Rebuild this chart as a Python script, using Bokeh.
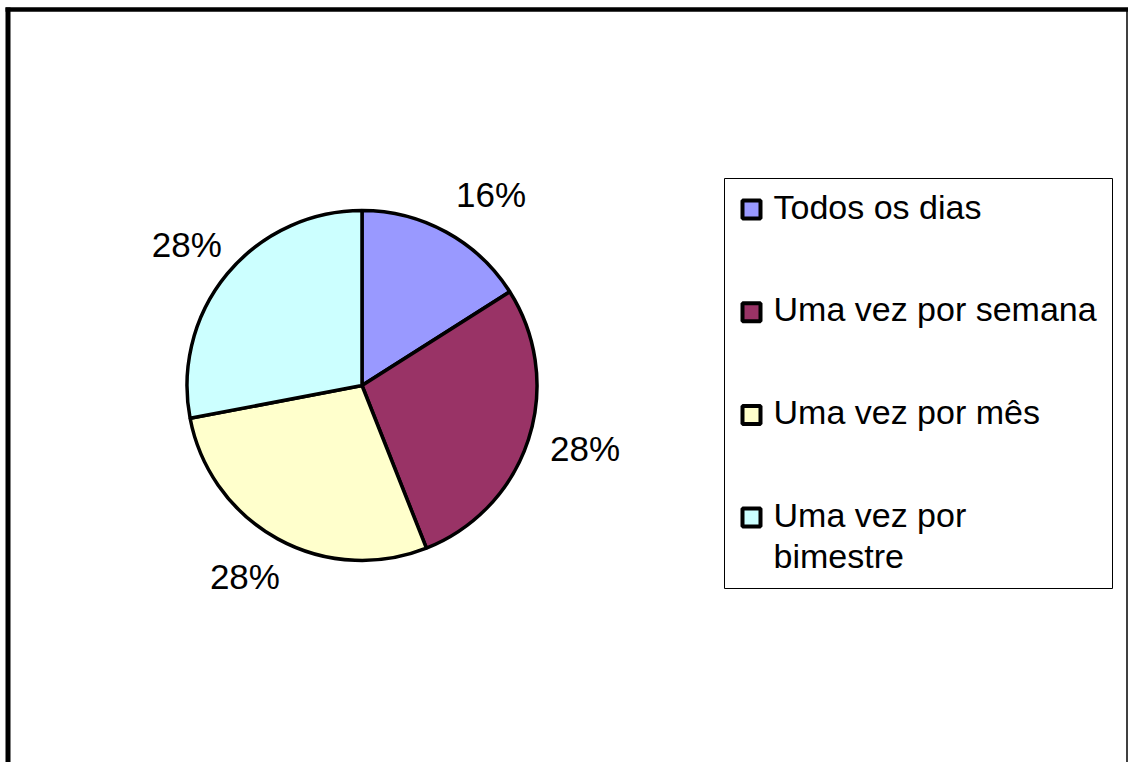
import numpy as np
from bokeh.plotting import figure
from bokeh.models import Range1d, ColumnDataSource
from bokeh.embed import file_html
from bokeh.resources import INLINE
from bokeh.core.properties import value

# ---- data ----
categories = ["Todos os dias", "Uma vez por semana", "Uma vez por mês", "Uma vez por bimestre"]
legend_labels = ["Todos os dias", "Uma vez por semana", "Uma vez por mês", "Uma vez por\nbimestre"]
percent = [16, 28, 28, 28]
colors = ["#9999FF", "#993366", "#FFFFCC", "#CCFFFF"]

# ---- layout (pixels) ----
W, H = 1128, 762
FONT = "Liberation Sans"
TXT_FIX = 12  # empirical baseline correction of the svg text
label_nudge_x = [12, -8, 0, 12]
label_nudge_y = [0, 4, 0, 2]


def Y(screen_y):
    # convert page-pixel y (downwards) to data y (upwards)
    return H - screen_y


p = figure(width=W, height=H, output_backend="svg", toolbar_location=None,
           x_range=Range1d(0, W), y_range=Range1d(0, H),
           x_axis_location=None, y_axis_location=None, min_border=0,
           background_fill_color="white", border_fill_color="white")
p.grid.visible = False
p.outline_line_color = None

# frame
p.segment(x0=[7.5, 5, 1126.5], y0=[Y(7), Y(9), Y(8)], x1=[7.5, 1128, 1126.5], y1=[Y(770), Y(9), Y(770)],
          line_color="black", line_width=[5, 4.5, 1.5])

# pie
cx, cy, R = 361.5, Y(385), 175
frac = np.array(percent, dtype=float) / sum(percent)
cum = np.concatenate([[0.0], np.cumsum(frac)])
start = np.pi / 2 - 2 * np.pi * cum[:-1]
end = np.pi / 2 - 2 * np.pi * cum[1:]
src = ColumnDataSource(dict(start=start, end=end, color=colors, cat=categories))
p.wedge(x=cx, y=cy, radius=R, start_angle="start", end_angle="end", direction="clock",
        fill_color="color", line_color="black", line_width=3.5, source=src)

# data labels
theta = 2 * np.pi * (cum[:-1] + cum[1:]) / 2
RL, bw, bh = 205, 76, 25
px = cx + RL * np.sin(theta) + bw / 2 * np.sin(theta) + np.array(label_nudge_x)
py = cy + RL * np.cos(theta) + bh / 2 * np.cos(theta) + np.array(label_nudge_y)
p.text(x=px, y=py - 12 + TXT_FIX, text=[f"{v}%" for v in percent], text_align="center",
       text_baseline="alphabetic", text_font=value(FONT), text_font_size="35px", text_color="black")

# legend
p.rect(x=918, y=Y(383), width=388, height=410, fill_color="white", line_color="black", line_width=1)
step = 102.7
sq_y = [Y(209 + i * step) for i in range(len(categories))]
p.rect(x=751, y=sq_y, width=18, height=18, fill_color=colors, line_color="black", line_width=4)
tx, ty, tt = [], [], []
for i, lab in enumerate(legend_labels):
    for j, line in enumerate(lab.split("\n")):
        tx.append(773)
        ty.append(Y(218 + i * step + j * 41) + TXT_FIX)
        tt.append(line)
p.text(x=tx, y=ty, text=tt, text_align="left", text_baseline="alphabetic",
       text_font=value(FONT), text_font_size="34px", text_color="black")

open("out.html", "w").write(file_html(p, INLINE))
